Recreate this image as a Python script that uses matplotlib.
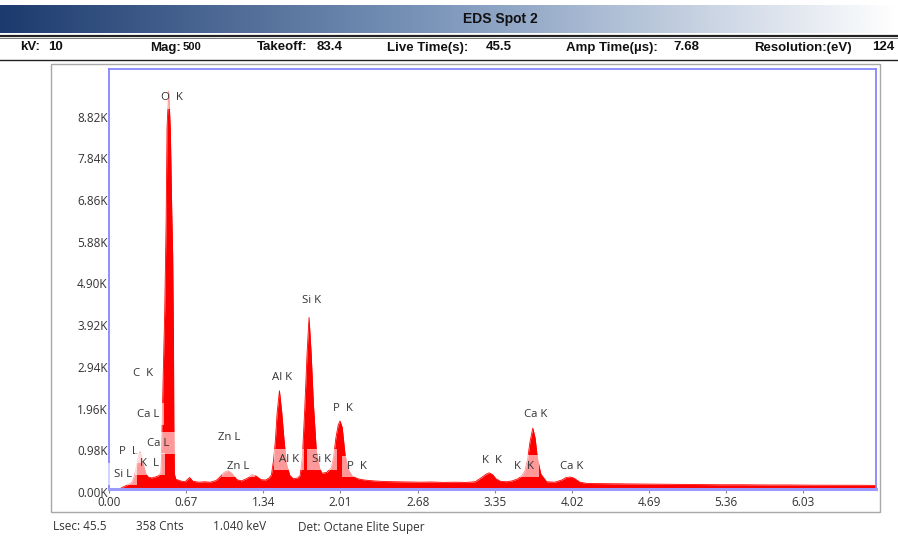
import numpy as np
import matplotlib
matplotlib.use("Agg")
import matplotlib.pyplot as plt
from matplotlib.colors import LinearSegmentedColormap
from matplotlib.patches import Rectangle
from matplotlib.transforms import ScaledTranslation

# ---------------- data ----------------
energy_kev = [0.00, 0.09, 0.11, 0.14, 0.17, 0.20, 0.22, 0.24, 0.26, 0.27, 0.28, 0.30,
              0.32, 0.34, 0.37, 0.40, 0.43, 0.45, 0.455, 0.461, 0.470, 0.475, 0.484,
              0.496, 0.504, 0.512, 0.518, 0.524, 0.533, 0.545, 0.553, 0.560, 0.563,
              0.568, 0.58, 0.62, 0.66, 0.70, 0.73, 0.78, 0.83, 0.88, 0.93, 0.97, 1.00,
              1.035, 1.07, 1.11, 1.15, 1.20, 1.24, 1.28, 1.32, 1.36, 1.39, 1.41, 1.43,
              1.445, 1.46, 1.48, 1.50, 1.52, 1.54, 1.57, 1.60, 1.64, 1.66, 1.68, 1.70,
              1.72, 1.737, 1.755, 1.775, 1.80, 1.83, 1.85, 1.89, 1.93, 1.95, 1.97, 1.99,
              2.006, 2.025, 2.05, 2.08, 2.11, 2.16, 2.22, 2.30, 2.40, 2.50, 2.60, 2.70,
              2.80, 2.90, 3.00, 3.10, 3.18, 3.23, 3.27, 3.30, 3.33, 3.36, 3.40, 3.45,
              3.50, 3.55, 3.58, 3.61, 3.635, 3.655, 3.68, 3.70, 3.72, 3.75, 3.80, 3.87,
              3.93, 3.97, 4.005, 4.04, 4.09, 4.15, 4.30, 4.50, 4.70, 4.90, 5.10, 5.30,
              5.50, 5.70, 5.90, 6.10, 6.30, 6.50, 6.66]
counts = [0, 0, 30, 70, 110, 160, 300, 560, 820, 870, 800, 560,
          360, 280, 260, 280, 310, 380, 700, 1500, 2600, 3200, 4200,
          6300, 8500, 9000, 9350, 9000, 8400, 6500, 5500, 3500, 1500,
          350, 230, 190, 170, 270, 180, 160, 170, 160, 200, 300, 390,
          430, 360, 220, 190, 250, 340, 300, 220, 210, 260, 330, 700,
          1150, 1800, 2310, 1800, 1150, 600, 320, 240, 260, 320, 800, 1900,
          3200, 4030, 3200, 2000, 900, 480, 370, 390, 500, 750, 1200, 1500,
          1600, 1450, 800, 450, 310, 240, 210, 190, 175, 170, 165, 160,
          165, 155, 160, 155, 170, 260, 340, 380, 340, 240, 180, 170,
          190, 240, 300, 420, 700, 1100, 1430, 1200, 720, 350, 170, 160,
          210, 270, 290, 250, 160, 130, 125, 120, 115, 110, 105, 100,
          100, 95, 95, 90, 90, 88, 85]

x_ticks = [0.00, 0.67, 1.34, 2.01, 2.68, 3.35, 4.02, 4.69, 5.36, 6.03]
y_ticks = [0, 980, 1960, 2940, 3920, 4900, 5880, 6860, 7840, 8820]
y_tick_labels = ["0.00K", "0.98K", "1.96K", "2.94K", "3.92K", "4.90K",
                 "5.88K", "6.86K", "7.84K", "8.82K"]

peak_labels = ["O  K", "C  K", "Ca L", "Ca L", "P  L", "K  L", "Si L", "Zn L", "Zn L",
               "Al K", "Al K", "Si K", "Si K", "P  K", "P  K", "K  K", "K  K",
               "Ca K", "Ca K"]
label_energy = [0.545, 0.30, 0.34, 0.43, 0.165, 0.355, 0.118, 1.040, 1.125,
                1.505, 1.565, 1.755, 1.850, 2.032, 2.152, 3.323, 3.600,
                3.705, 4.017]
label_counts = [9190, 2710, 1760, 1080, 870, 590, 350, 1200, 520,
                2630, 700, 4440, 700, 1900, 520, 680, 540,
                1740, 540]

header_items = [("kV:", 20), ("10", 48), ("Mag:", 150), ("500", 183),
                ("Takeoff:", 257), ("83.4", 317), ("Live Time(s):", 387), ("45.5", 486),
                ("Amp Time(\u00b5s):", 566), ("7.68", 673), ("Resolution:(eV)", 754),
                ("124", 872)]
footer_items = [("Lsec: 45.5", 53), ("358 Cnts", 136), ("1.040 keV", 213),
                ("Det: Octane Elite Super", 298)]
title = "EDS Spot 2"

# ---------------- figure ----------------
W, H = 898, 541
fig = plt.figure(figsize=(W / 100, H / 100), dpi=100)
fig.patch.set_facecolor("white")

narrow = ["Liberation Sans Narrow", "Liberation Sans", "DejaVu Sans"]
ui = ["Open Sans", "DejaVu Sans"]

# background axes in pixel coordinates
bg = fig.add_axes([0, 0, 1, 1])
bg.set_xlim(0, W)
bg.set_ylim(H, 0)
bg.axis("off")

grad = np.linspace(0, 1, 512).reshape(1, -1)
cmap = LinearSegmentedColormap.from_list("bar", [(0.11, 0.23, 0.43), (0.50, 0.60, 0.74), (1, 1, 1)])
bg.imshow(grad, cmap=cmap, extent=(0, W, 33, 5), aspect="auto", zorder=1)
bg.text(500, 19, title, ha="center", va="center", fontsize=10, fontweight="bold",
        family=narrow, color="#111111", zorder=3)
bg.plot([0, W], [35.5, 35.5], color="#222222", lw=1.6, zorder=2)
bg.plot([0, W], [38, 38], color="#777777", lw=0.7, zorder=2)
bg.plot([0, W], [60, 60], color="#222222", lw=1.0, zorder=2)

for txt, x in header_items:
    fs = 8 if txt == "500" else 9.5
    bg.text(x, 47.5, txt, ha="left", va="center", fontsize=fs, fontweight="bold",
            family=narrow, color="#111111")

bg.add_patch(Rectangle((50.5, 63.5), 829, 448.5, fill=False, edgecolor="#a8a8a8", lw=1.0))

for txt, x in footer_items:
    bg.text(x, 527, txt, ha="left", va="center", fontsize=8.5, family=ui, color="#333333")

# main axes
left, right, top, bottom = 109, 876, 69, 489
ax = fig.add_axes([left / W, 1 - bottom / H, (right - left) / W, (bottom - top) / H])
ax.set_facecolor("white")
ax.fill_between(energy_kev, counts, 0, color="#ff0000", lw=0, zorder=2)
ax.plot(energy_kev, counts, color="#ff0000", lw=0.6, zorder=2)
ax.set_xlim(0, 6.66)
ax.set_ylim(0, 9870)

ax.set_xticks(x_ticks)
ax.set_xticklabels([f"{v:.2f}" for v in x_ticks], fontsize=8.5, family=ui, color="#333333")
ax.set_yticks(y_ticks)
ax.set_yticklabels(y_tick_labels, fontsize=8.5, family=ui, color="#333333")
ax.tick_params(axis="x", length=3, width=0.8, color="#888888", pad=2, direction="out")
ax.tick_params(axis="y", length=0, pad=1)
shift = ScaledTranslation(0, -3 / 100, fig.dpi_scale_trans)
for lab in ax.get_yticklabels():
    lab.set_transform(lab.get_transform() + shift)

for s in ["left", "right", "top"]:
    ax.spines[s].set_color("#7d7dff")
    ax.spines[s].set_linewidth(1.2)
ax.spines["bottom"].set_color("#9b9bff")
ax.spines["bottom"].set_linewidth(2.2)

for txt, e, c in zip(peak_labels, label_energy, label_counts):
    ax.text(e, c, txt, ha="center", va="center", fontsize=8.2, family=ui, color="#333333",
            zorder=4, bbox=dict(boxstyle="square,pad=0.45", facecolor="white", edgecolor="none", alpha=0.6))

fig.savefig("out.png", dpi=100)
